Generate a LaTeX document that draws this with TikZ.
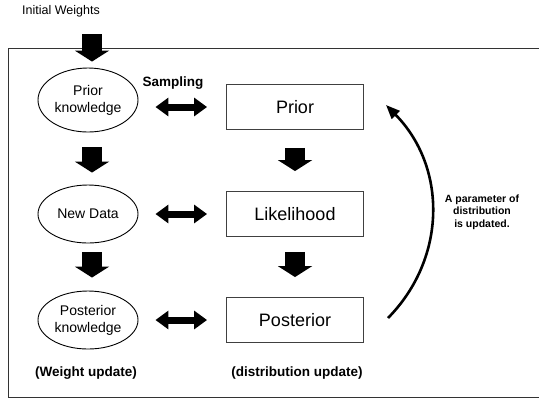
\documentclass[tikz,border=0pt]{standalone}
\usepackage{fontspec}
\setmainfont{Liberation Sans}
\usetikzlibrary{shapes.geometric,arrows.meta,calc}

\tikzset{
  knowledge/.style={ellipse, draw=black, line width=0.9bp, minimum width=100bp,
    minimum height=58bp, inner sep=0pt, align=center,
    font=\fontsize{14bp}{17bp}\selectfont},
  distbox/.style={rectangle, draw=black!75, line width=0.9bp, minimum width=137bp,
    minimum height=45bp, inner sep=0pt, font=\fontsize{18bp}{20bp}\selectfont},
  blockdown/.style={line width=20bp, -{Triangle[width=34bp,length=11bp]}},
  blockboth/.style={line width=7bp,
    {Triangle[width=18bp,length=13bp]}-{Triangle[width=18bp,length=13bp]}},
  boldlabel/.style={font=\bfseries\fontsize{13.5bp}{16bp}\selectfont, inner sep=0pt},
  smalllabel/.style={font=\bfseries\fontsize{10.5bp}{12.5bp}\selectfont,
    align=center, inner sep=0pt},
}

\begin{document}
\begin{tikzpicture}[x=1bp, y=-1bp]
  \useasboundingbox (0,0) rectangle (539,400);

  % outer frame, open on the right
  \draw[line width=0.9bp, black!80] (539,48) -- (8,48) -- (8,397) -- (539,397);

  % starting weights
  \node[font=\fontsize{12.5bp}{14bp}\selectfont, inner sep=0pt] (iw) at (61,11) {Initial Weights};

  % weight side
  \node[knowledge, minimum height=64bp] (pk) at (88,100) {Prior\\knowledge};
  \node[knowledge] (nd) at (88,214) {New Data};
  \node[knowledge] (pok) at (88,320) {Posterior\\knowledge};

  % distribution side
  \node[distbox] (pr) at (295,107) {Prior};
  \node[distbox] (li) at (295,214) {Likelihood};
  \node[distbox] (po) at (295,320) {Posterior};

  % flow arrows
  \draw[blockdown, shorten <=17bp, shorten >=6bp] (iw.south -| 92,0) -- (pk.north -| 92,0);
  \draw[blockdown, shorten <=15bp, shorten >=12bp] (pk.south -| 92,0) -- (nd.north -| 92,0);
  \draw[blockdown, shorten <=9bp, shorten >=13bp] (nd.south -| 92,0) -- (pok.north -| 92,0);
  \draw[blockdown, shorten <=18bp, shorten >=20bp] (pr.south) -- (li.north);
  \draw[blockdown, shorten <=15bp, shorten >=20bp] (li.south) -- (po.north);

  % exchange arrows
  \draw[blockboth, shorten <=17bp, shorten >=19bp] (pk.east |- pr.west) -- (pr.west);
  \draw[blockboth, shorten <=17bp, shorten >=19bp] (nd.east |- li.west) -- (li.west);
  \draw[blockboth, shorten <=17bp, shorten >=19bp] (pok.east |- po.west) -- (po.west);

  \node[boldlabel] (samp) at (173,83) {Sampling};

  % update loop
  \coordinate (cs) at (388,318);
  \coordinate (ce) at (386,105);
  \draw[line width=2.6bp, -{Triangle[width=11bp,length=14bp]}]
    (cs) .. controls (447,258) and (447,167) .. (ce);
  \node[smalllabel] (upd) at (482,212) {A parameter of\\distribution\\is updated.};

  % captions
  \node[boldlabel] (wu) at (86,373) {(Weight update)};
  \node[boldlabel] (du) at (297,373) {(distribution update)};
\end{tikzpicture}
\end{document}
